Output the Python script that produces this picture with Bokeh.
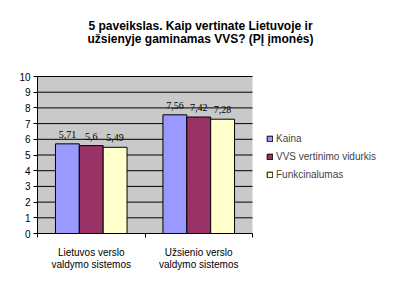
from bokeh.plotting import figure
from bokeh.models import (ColumnDataSource, FixedTicker, Legend, LegendItem, Range1d, LabelSet,
                          Label, BoxAnnotation)
from bokeh.transform import dodge
from bokeh.embed import file_html
from bokeh.resources import INLINE

title_lines = ["5 paveikslas. Kaip vertinate Lietuvoje ir", "užsienyje gaminamas VVS? (PĮ įmonės)"]
categories = ["Lietuvos verslo\nvaldymo sistemos", "Užsienio verslo\nvaldymo sistemos"]
series = ["Kaina", "VVS vertinimo vidurkis", "Funkcinalumas"]
kaina = [5.71, 7.56]
vidurkis = [5.6, 7.42]
funkc = [5.49, 7.28]
colors = ["#9999FF", "#993366", "#FFFFCC"]
y_ticks = list(range(0, 11))

FONT = "Liberation Sans"

# layout (pixels)
W, H = 401, 292
LEFT, BOTTOM = 37, 59
PLOT_W, PLOT_H = 215, 157          # size of the grey plot area
FW, FH = W - LEFT, H - BOTTOM      # frame extends to top/right edges
ncat = len(categories)
ymax = y_ticks[-1]

xc = [i + 0.5 for i in range(ncat)]
data = {"x": xc}
for name, vals in zip(series, [kaina, vidurkis, funkc]):
    data[name] = vals
    data[name + "_lbl"] = [("%g" % v).replace(".", ",") for v in vals]
src = ColumnDataSource(data)

p = figure(frame_width=FW, frame_height=FH, output_backend="svg", toolbar_location=None,
           x_range=Range1d(0, ncat * FW / PLOT_W), y_range=Range1d(0, ymax * FH / PLOT_H),
           min_border_left=LEFT, min_border_right=0, min_border_top=0, min_border_bottom=BOTTOM)
p.background_fill_color = "white"
p.border_fill_color = "white"
p.outline_line_color = None

# grey plot area
p.add_layout(BoxAnnotation(left=0, right=ncat, bottom=0, top=ymax, fill_color="#c9c9c9",
                           fill_alpha=1, line_color=None, level="image"))

# horizontal gridlines limited to the plot area
p.segment(x0=[0] * len(y_ticks), x1=[ncat] * len(y_ticks), y0=y_ticks, y1=y_ticks,
          line_color="black", line_width=1, level="underlay")

# title
for i, line in enumerate(title_lines):
    p.add_layout(Label(x=200 - LEFT, y=FH - 25 - 13 * i, x_units="screen", y_units="screen",
                       text=line, text_align="center", text_baseline="middle",
                       text_font=FONT, text_font_size="12px", text_font_style="bold",
                       text_color="black"))

bw = 0.222
offs = [-bw, 0, bw]
items = []
for name, col, off in zip(series, colors, offs):
    r = p.vbar(x=dodge("x", off), top=name, width=bw, source=src, fill_color=col,
               line_color="black", line_width=1)
    items.append(LegendItem(label=name, renderers=[r]))
    lbl = LabelSet(x=dodge("x", off), y=name, text=name + "_lbl", source=src,
                   text_align="center", text_baseline="bottom", y_offset=6,
                   text_font=FONT, text_font_size="10px", text_color="black")
    p.add_layout(lbl)

# axes
p.yaxis.ticker = FixedTicker(ticks=y_ticks)
p.yaxis.bounds = (0, ymax)
p.yaxis.major_label_text_font = FONT
p.yaxis.major_label_text_font_size = "10px"
p.yaxis.major_label_text_color = "black"
p.yaxis.axis_line_color = "black"
p.yaxis.major_tick_line_color = "black"
p.yaxis.major_tick_in = 0
p.yaxis.major_tick_out = 4
p.yaxis.minor_tick_line_color = None
p.yaxis.major_label_standoff = 3

p.xaxis.ticker = FixedTicker(ticks=xc, minor_ticks=list(range(ncat + 1)))
p.xaxis.bounds = (0, ncat)
p.xaxis.major_label_overrides = {x: c for x, c in zip(xc, categories)}
p.xaxis.major_label_text_font = FONT
p.xaxis.major_label_text_font_size = "10px"
p.xaxis.major_label_text_color = "black"
p.xaxis.major_label_text_line_height = 1.1
p.xaxis.major_tick_line_color = None
p.xaxis.minor_tick_line_color = "black"
p.xaxis.minor_tick_in = 0
p.xaxis.minor_tick_out = 4
p.xaxis.axis_line_color = "black"
p.xaxis.major_label_standoff = 7

p.xgrid.grid_line_color = None
p.ygrid.grid_line_color = None

legend = Legend(items=items, location=(229, 53), border_line_color=None,
                background_fill_alpha=0,
                label_text_font=FONT, label_text_font_size="10px",
                glyph_width=7, glyph_height=7, label_height=12, spacing=6,
                label_standoff=3, padding=0, margin=0)
p.add_layout(legend)

open("out.html", "w").write(file_html(p, INLINE))
